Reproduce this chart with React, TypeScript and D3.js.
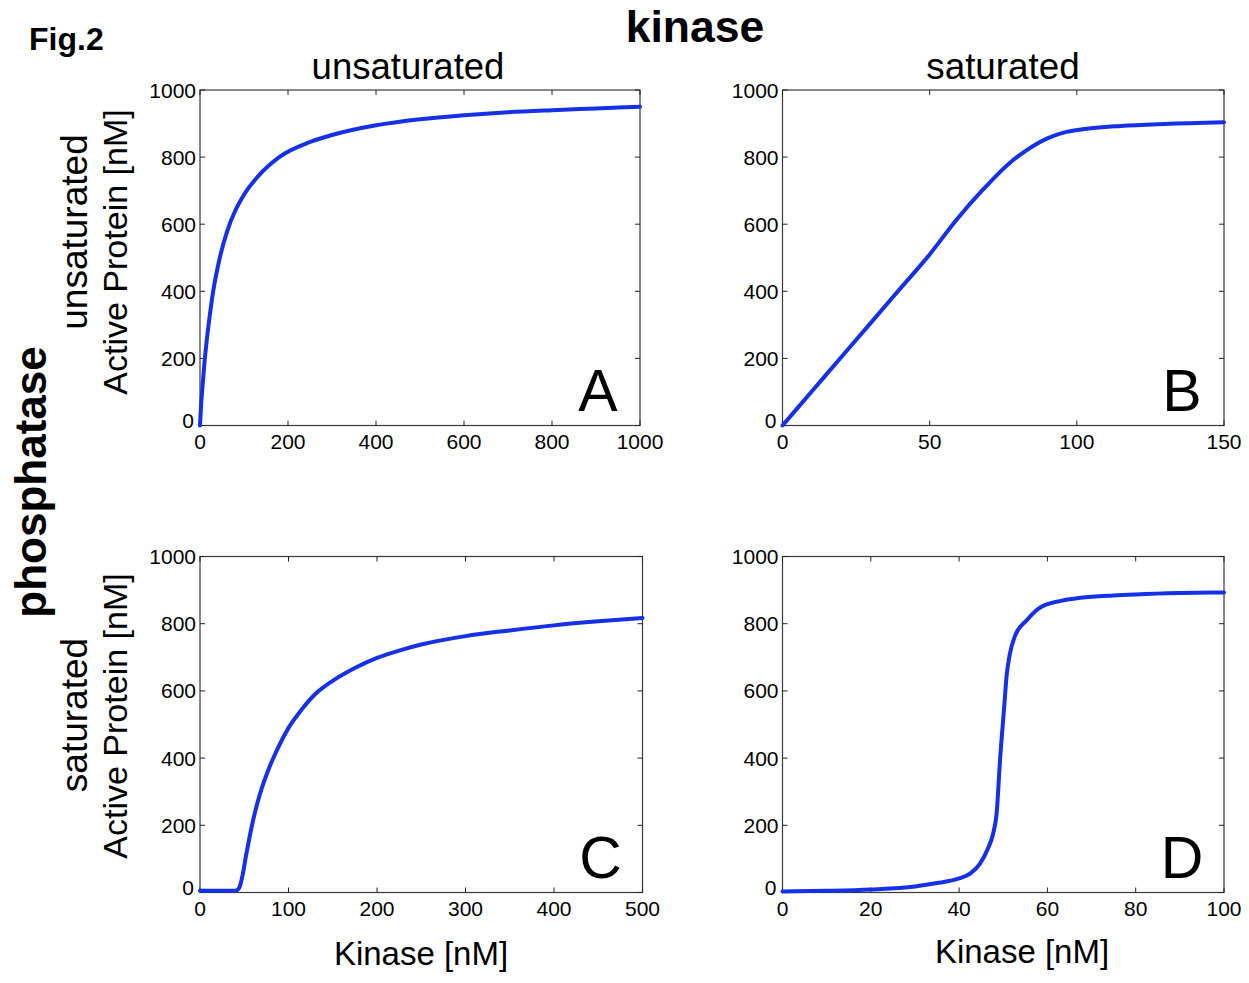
import React from "react";
import * as d3 from "d3";

// ---- data ----
const panelA: [number, number][] = [
  [0, 0], [2, 50], [5, 105], [10, 185], [15, 250], [20, 305], [30, 400], [45, 500],
  [62, 580], [80, 640], [100, 688], [130, 740], [180, 800], [250, 845], [300, 866],
  [400, 895], [500, 913], [600, 925], [700, 934], [800, 940], [900, 945], [1000, 950],
];
const panelB: [number, number][] = [
  [0, 0], [10, 102], [20, 204], [30, 306], [40, 408], [50, 510], [59, 612], [68, 702],
  [77, 781], [83, 821], [90, 856], [95.5, 873], [102, 883], [115, 893], [130, 899],
  [150, 904],
];
const panelC: [number, number][] = [
  [0, 5], [38, 5], [42, 7], [45, 18], [48, 50], [52, 110], [56, 165], [60, 215],
  [65, 268], [70, 312], [78, 370], [88, 430], [100, 490], [115, 545], [130, 590],
  [150, 630], [175, 668], [200, 698], [225, 720], [250, 738], [300, 763], [350, 780],
  [400, 795], [450, 807], [500, 817],
];
const panelD: [number, number][] = [
  [0, 3], [10, 5], [20, 9], [30, 18], [35, 28], [40, 42], [42.5, 56], [44.7, 85],
  [46.5, 130], [47.7, 175], [48.5, 235], [49.3, 400], [50.2, 550], [50.8, 650],
  [51.5, 710], [52.7, 765], [55.3, 810], [58, 845], [63, 868], [67.5, 877], [75, 884],
  [80, 887], [90, 891], [100, 893],
];

const yTicks = [0, 200, 400, 600, 800, 1000];
const xTicksA = [0, 200, 400, 600, 800, 1000];
const xTicksB = [0, 50, 100, 150];
const xTicksC = [0, 100, 200, 300, 400, 500];
const xTicksD = [0, 20, 40, 60, 80, 100];

const colTitles = ["unsaturated", "saturated"];
const rowTitles = ["unsaturated", "saturated"];
const letters = ["A", "B", "C", "D"];

const FONT = "'Liberation Sans', Arial, Helvetica, sans-serif";
const LINE = "#1530e6";

type PanelProps = {
  data: [number, number][];
  xMax: number;
  xTicks: number[];
  left: number;
  right: number;
  top: number;
  bottom: number;
  letter: string;
};

function Panel({ data, xMax, xTicks, left, right, top, bottom, letter }: PanelProps) {
  const x = d3.scaleLinear().domain([0, xMax]).range([left, right]);
  const y = d3.scaleLinear().domain([0, 1000]).range([bottom, top]);
  const line = d3
    .line<[number, number]>()
    .x((d) => x(d[0]))
    .y((d) => y(d[1]))
    .curve(d3.curveMonotoneX);
  const tl = 5;
  return (
    <g>
      <rect x={left} y={top} width={right - left} height={bottom - top} fill="white" stroke="#3a3a3a" strokeWidth={1.2} />
      {yTicks.map((t) => (
        <g key={"y" + t}>
          <line x1={left} x2={left + tl} y1={y(t)} y2={y(t)} stroke="#222" />
          <line x1={right} x2={right - tl} y1={y(t)} y2={y(t)} stroke="#222" />
          <text
            x={t === 0 ? left - 6 : left - 4}
            y={t === 0 ? y(t) + 2 : y(t) + 7.5}
            textAnchor="end"
            fontSize={21}
            fontFamily={FONT}
          >
            {t}
          </text>
        </g>
      ))}
      {xTicks.map((t) => (
        <g key={"x" + t}>
          <line x1={x(t)} x2={x(t)} y1={bottom} y2={bottom - tl} stroke="#222" />
          <line x1={x(t)} x2={x(t)} y1={top} y2={top + tl} stroke="#222" />
          <text x={x(t)} y={bottom + 23.5} textAnchor="middle" fontSize={21} fontFamily={FONT}>
            {t}
          </text>
        </g>
      ))}
      <path d={line(data) || ""} fill="none" stroke={LINE} strokeWidth={4} strokeLinejoin="round" strokeLinecap="round" />
      <text x={right - 42} y={bottom - 15} textAnchor="middle" fontSize={59} fontFamily={FONT}>
        {letter}
      </text>
    </g>
  );
}

export default function App() {
  return (
    <svg
      width={1249}
      height={983}
      style={{ position: "absolute", left: 0, top: 0, background: "white" }}
      fontFamily={FONT}
    >
      <rect width={1249} height={983} fill="white" />
      <text x={29} y={50} fontSize={32} fontWeight="bold">Fig.2</text>
      <text x={695} y={42} fontSize={44.5} fontWeight="bold" textAnchor="middle">kinase</text>
      <text x={408} y={79} fontSize={36.5} textAnchor="middle">{colTitles[0]}</text>
      <text x={1003} y={79} fontSize={36.8} textAnchor="middle">{colTitles[1]}</text>

      <text transform="translate(46,482) rotate(-90)" fontSize={44} fontWeight="bold" textAnchor="middle">phosphatase</text>
      <text transform="translate(87,232) rotate(-90)" fontSize={37} textAnchor="middle">{rowTitles[0]}</text>
      <text transform="translate(87,715) rotate(-90)" fontSize={37} textAnchor="middle">{rowTitles[1]}</text>
      <text transform="translate(127,252) rotate(-90)" fontSize={34} textAnchor="middle">Active Protein [nM]</text>
      <text transform="translate(127,716) rotate(-90)" fontSize={34} textAnchor="middle">Active Protein [nM]</text>

      <Panel data={panelA} xMax={1000} xTicks={xTicksA} left={200} right={640} top={90} bottom={425.5} letter={letters[0]} />
      <Panel data={panelB} xMax={150} xTicks={xTicksB} left={782.5} right={1224} top={90} bottom={425.5} letter={letters[1]} />
      <Panel data={panelC} xMax={500} xTicks={xTicksC} left={200} right={642.5} top={556.5} bottom={892.5} letter={letters[2]} />
      <Panel data={panelD} xMax={100} xTicks={xTicksD} left={782.5} right={1224} top={556.5} bottom={892.5} letter={letters[3]} />

      <text x={421} y={965} fontSize={33} textAnchor="middle">Kinase [nM]</text>
      <text x={1022} y={963} fontSize={33} textAnchor="middle">Kinase [nM]</text>
    </svg>
  );
}
